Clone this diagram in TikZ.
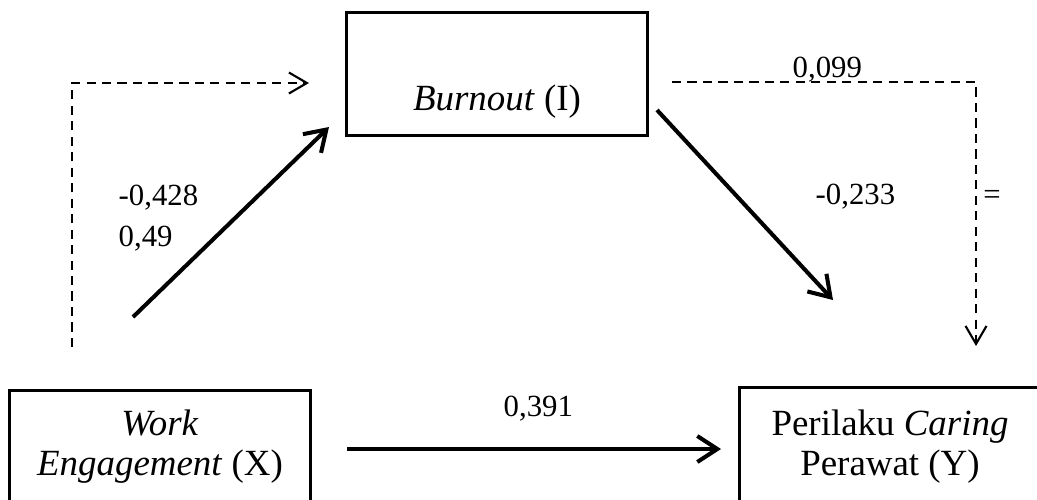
\documentclass[tikz,border=0pt]{standalone}
\usepackage{fontspec}
\setmainfont{Liberation Serif}
\usetikzlibrary{arrows.meta}

\tikzset{
  varbox/.style={draw, line width=0.85pt, rectangle, inner sep=0pt, minimum width=3cm,
    font=\fontsize{10.5}{11.4}\selectfont, align=center},
  patharrow/.style={line width=1.15pt, -{Straight Barb[length=2mm,width=2.6mm]}},
  dasharrow/.style={line width=0.6pt, dash pattern=on 2.6pt off 1.8pt,
    -{Straight Barb[length=1.8mm,width=2.1mm]}},
  coef/.style={font=\fontsize{8.75}{10.5}\selectfont, inner sep=0pt}
}

\begin{document}
\begin{tikzpicture}[x=0.01cm, y=-0.01cm]
\useasboundingbox (0,0) rectangle (1037,499);
\clip (0,0) rectangle (1037,499);

%\draw[gray,very thin, step=50] (0,0) grid (1037,499);

% variables
\node[varbox, minimum height=1.22cm] (burnout) at (497,74) {};
\node[font=\fontsize{10.5}{11.4}\selectfont, inner sep=0pt, anchor=base] (burnouttxt) at (497,110) {\textit{Burnout} (I)};

\node[varbox, minimum height=1.12cm] (work) at (160,447) {\textit{Work}\\ \textit{Engagement} (X)};
\node[varbox, minimum height=1.18cm] (caring) at (890,447) {Perilaku \textit{Caring}\\ Perawat (Y)};

% direct paths
\coordinate (xi1) at (133,317);
\coordinate (xi2) at (329,127);
\draw[patharrow] (xi1) -- (xi2);

\coordinate (iy1) at (657,110);
\coordinate (iy2) at (833,300);
\draw[patharrow] (iy1) -- (iy2);

\coordinate (xy1) at (347,449);
\coordinate (xy2) at (721,449);
\draw[patharrow] (xy1) -- (xy2);

% indirect path
\coordinate (ind1) at (72,347);
\coordinate (ind2) at (309,83);
\draw[dasharrow] (ind1) |- (ind2);

\coordinate (ind3) at (672,82);
\coordinate (ind4) at (976,346);
\draw[dasharrow] (ind3) -| (ind4);

% coefficients
\node[coef, anchor=base west] (cxi) at (118,205) {-0,428};
\node[coef, anchor=base west] (cxi2) at (118,246) {0,49};
\node[coef, anchor=base west] (ciy) at (815,204) {-0,233};
\node[coef, anchor=base west] (cind) at (792,77) {0,099};
\node[coef, anchor=base west] (cxy) at (503,416) {0,391};
\node[coef] (ceq) at (992,197) {=};

\end{tikzpicture}
\end{document}
